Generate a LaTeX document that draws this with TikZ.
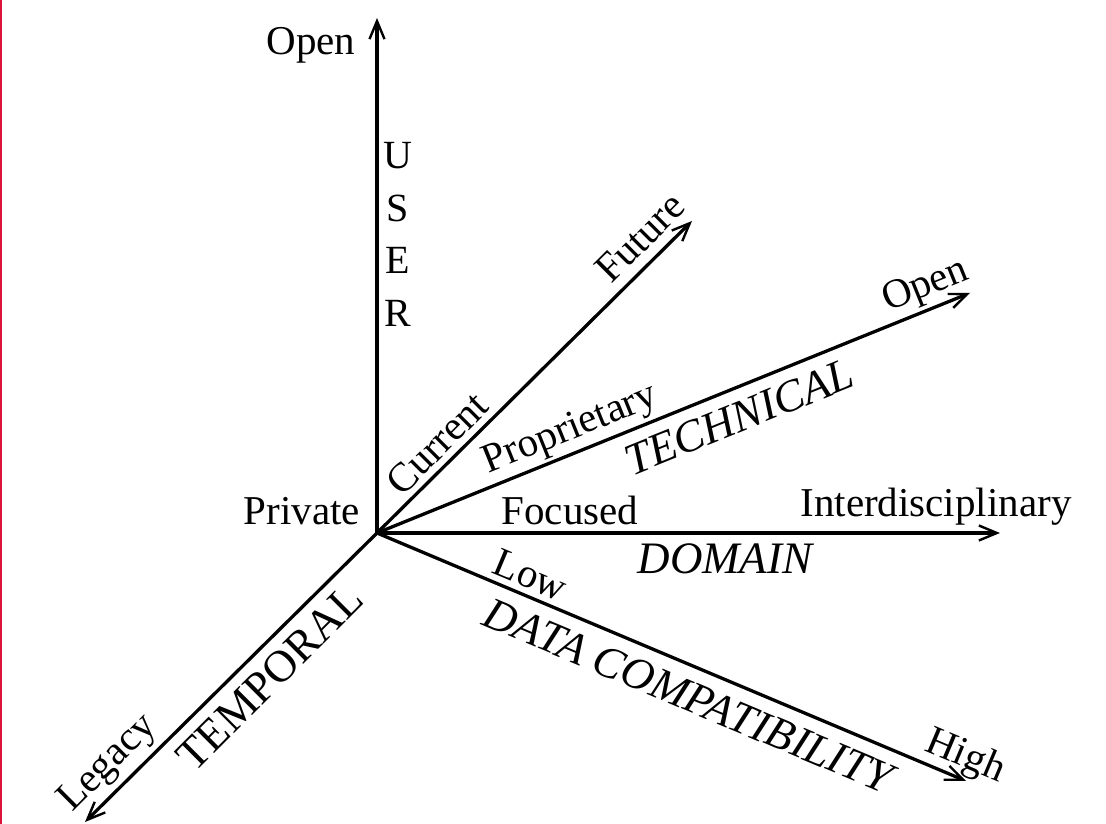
\documentclass[tikz,border=0pt]{standalone}
\usepackage{fontspec}
\setmainfont{Liberation Serif}
\usetikzlibrary{arrows.meta,calc}
\definecolor{edgered}{RGB}{220,20,60}
\begin{document}
\begin{tikzpicture}[x=1pt,y=1pt,
  axis/.style={line width=3.3pt,
    -{Straight Barb[length=18pt,width=15pt,line width=2.4pt]}},
  lbl/.style={inner sep=0pt, text height=27pt, text depth=0pt,
    font=\fontsize{41}{49}\selectfont},
  big/.style={inner sep=0pt, text height=30pt, text depth=0pt,
    font=\fontsize{45}{54}\selectfont},
  bigit/.style={big, font=\fontsize{45}{54}\selectfont\itshape},
  stack/.style={inner sep=0pt, align=center,
    font=\fontsize{40}{52.7}\selectfont},
]
\useasboundingbox (0,0) rectangle (1106,824);
\fill[white] (0,0) rectangle (1106,824);
\fill[edgered] (0,0) rectangle (2,824);

% origin and axis ends
\coordinate (O) at (377,291);
\coordinate (U) at (377,806);
\coordinate (F) at (692,603);
\coordinate (T) at (970,531);
\coordinate (D) at (1000,291);
\coordinate (C) at (966,43);
\coordinate (L) at (85,2);

\draw[axis] (O) -- (U);
\draw[axis] (O) -- (F);
\draw[axis] (O) -- (T);
\draw[axis] (O) -- (D);
\draw[axis] (O) -- (C);
\draw[axis] (O) -- (L);

% user axis
\node[lbl] (uopen) at (311,782.6) {Open};
\node[lbl] (upriv) at (302,312.6) {Private};
\node[stack] (user) at (398,589.5) {U\\S\\E\\R};

% temporal axis
\node[lbl, rotate=45] (tcur) at ($(O)+(45:106)+(135:21)$) {Current};
\node[lbl, rotate=45] (tfut) at ($(O)+(45:395)+(135:23)$) {Future};
\node[lbl, rotate=45] (tleg) at ($(O)+(225:353)+(135:31)$) {Legacy};
\node[big, rotate=45] (temporal) at ($(O)+(225:178)+(315:26)$) {TEMPORAL};

% technical axis
\node[lbl, rotate=22] (kprop) at ($(O)+(22:218)+(112:27)$) {Proprietary};
\node[lbl, rotate=22] (kopen) at ($(O)+(22:601)+(112:27)$) {Open};
\node[bigit, rotate=22] (technical) at ($(O)+(22:379)+(292:28)$) {TECHNICAL};

% domain axis
\node[lbl] (dfoc) at (570,312.6) {Focused};
\node[lbl] (dint) at (936,320.6) {Interdisciplinary};
\node[bigit] (domain) at (725,265) {DOMAIN};

% data compatibility axis
\node[lbl, rotate=-22.8] (clow) at ($(O)+(-22.8:158)+(67.2:21)$) {Low};
\node[lbl, rotate=-22.8] (chigh) at ($(O)+(-22.8:629)+(67.2:25)$) {High};
\node[bigit, rotate=-22.8] (data) at ($(O)+(-22.8:350)+(247.2:29)$) {DATA COMPATIBILITY};
\end{tikzpicture}
\end{document}
